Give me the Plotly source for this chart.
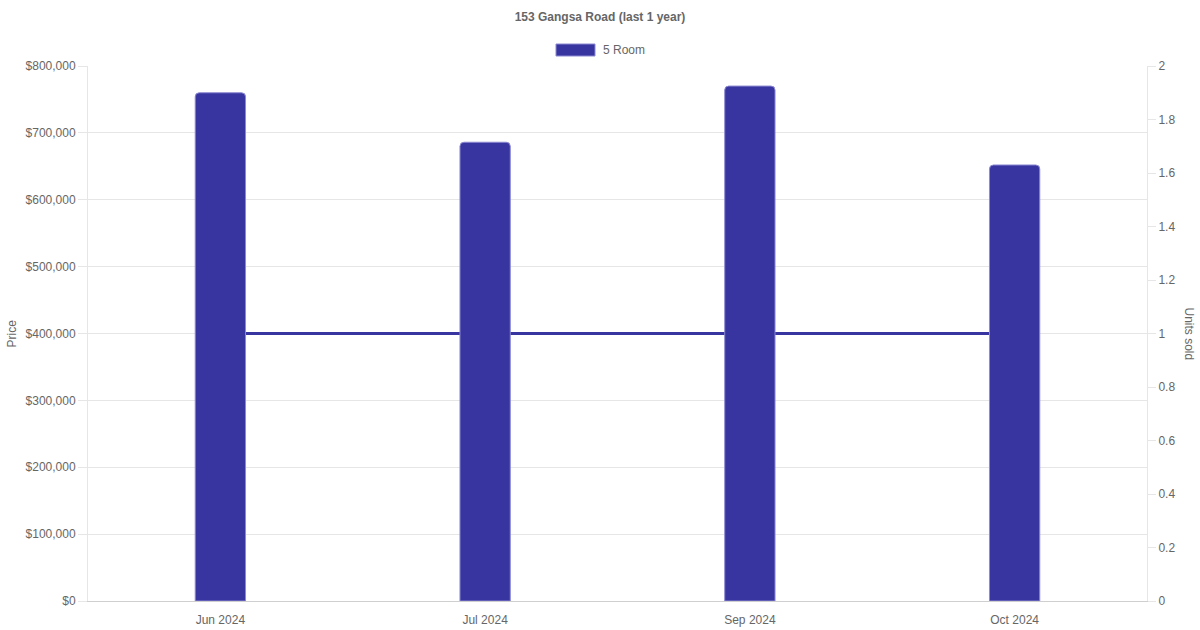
import plotly.graph_objects as go

months = ["Jun 2024", "Jul 2024", "Sep 2024", "Oct 2024"]
prices = [760000, 686000, 770000, 652000]
units_sold = [1, 1, 1, 1]
series_name = "5 Room"
title_text = "153 Gangsa Road (last 1 year)"

BAR = "rgb(56,53,160)"
GRID = "#e6e6e6"
TXT = "#666666"
FONT = "Liberation Sans, Arial, Helvetica, sans-serif"

fig = go.Figure()

fig.add_trace(go.Scatter(
    x=months, y=units_sold, mode="lines", yaxis="y",
    line=dict(color=BAR, width=3), showlegend=False, hoverinfo="skip",
))
fig.add_trace(go.Bar(
    x=months, y=prices, yaxis="y2", name=series_name, width=0.19,
    marker=dict(color=BAR, line=dict(color="rgba(140,138,210,1)", width=1)),
    showlegend=False,
))

fig.update_layout(
    width=1200, height=630,
    margin=dict(l=88, r=53, t=66, b=29),
    paper_bgcolor="white", plot_bgcolor="white",
    font=dict(family=FONT, size=12, color=TXT),
    barcornerradius=4,
    showlegend=False,
    title=dict(text="<b>" + title_text + "</b>", x=0.5, xanchor="center",
               y=1 - 17 / 630, yanchor="middle",
               font=dict(family=FONT, size=12, color=TXT)),
    xaxis=dict(type="category", range=[-0.5, 3.5], showgrid=False,
               showline=True, linecolor="#cfcfcf", linewidth=1,
               ticks="", tickfont=dict(size=12, color=TXT), ticklabelstandoff=8,
               zeroline=False, automargin=False),
    yaxis=dict(side="right", range=[0, 2], dtick=0.2, showgrid=False,
               showline=True, linecolor=GRID, linewidth=1,
               ticks="outside", ticklen=8, tickcolor=GRID,
               tickfont=dict(size=12, color=TXT), zeroline=False, automargin=False),
    yaxis2=dict(side="left", overlaying="y", range=[0, 800000], dtick=100000,
                tickprefix="$", tickformat=",d", showgrid=True, gridcolor=GRID,
                showline=True, linecolor=GRID, linewidth=1,
                ticks="outside", ticklen=9, tickcolor=GRID,
                tickfont=dict(size=12, color=TXT), zeroline=False, automargin=False),
)

# legend (drawn manually to match the wide colour box)
fig.add_shape(type="rect", xref="paper", yref="paper",
              x0=(556 - 88) / 1059, x1=(595 - 88) / 1059,
              y0=1 + (66 - 56) / 535, y1=1 + (66 - 44) / 535,
              fillcolor=BAR, line=dict(color="rgba(140,138,210,1)", width=1))
fig.add_annotation(text=series_name, xref="paper", yref="paper",
                   x=(601 - 88) / 1059, y=1 + (66 - 50) / 535,
                   xanchor="left", yanchor="middle", showarrow=False,
                   font=dict(family=FONT, size=12, color=TXT))

# axis titles
fig.add_annotation(text="Price", xref="paper", yref="paper",
                   x=(11 - 88) / 1059, y=0.5, textangle=-90,
                   xanchor="center", yanchor="middle", showarrow=False,
                   font=dict(family=FONT, size=12, color=TXT))
fig.add_annotation(text="Units sold", xref="paper", yref="paper",
                   x=(1189 - 88) / 1059, y=0.5, textangle=90,
                   xanchor="center", yanchor="middle", showarrow=False,
                   font=dict(family=FONT, size=12, color=TXT))

fig.write_html("out.html", config={"displayModeBar": False},
               post_script="document.body.style.margin='0';")
